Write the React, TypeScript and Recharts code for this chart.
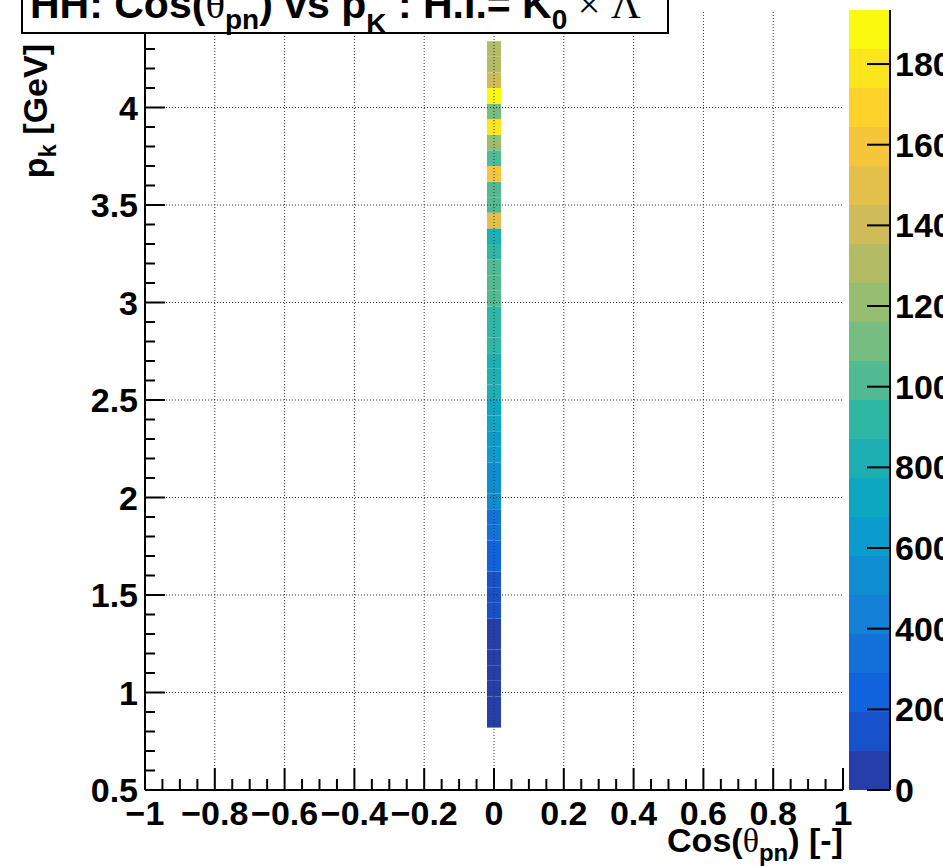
import React from "react";
import { ComposedChart, ReferenceArea, ReferenceLine, Scatter, XAxis, YAxis } from "recharts";

// p_K bins (lower edge, GeV) filled in the Cos(theta_pn) bin around 0
const pkBinLow = [
  0.82, 0.9, 0.98, 1.06, 1.14, 1.22, 1.3, 1.38, 1.46, 1.54, 1.62, 1.7, 1.78, 1.86, 1.94,
  2.02, 2.1, 2.18, 2.26, 2.34, 2.42, 2.5, 2.58, 2.66, 2.74, 2.82, 2.9, 2.98, 3.06, 3.14,
  3.22, 3.3, 3.38, 3.46, 3.54, 3.62, 3.7, 3.78, 3.86, 3.94, 4.02, 4.1, 4.18, 4.26,
];
const pkBinWidth = 0.08;
const cosBin = [-0.02, 0.02];
const counts = [
  30, 45, 55, 60, 70, 80, 90, 120, 150, 180, 220, 260, 330, 370, 500,
  520, 560, 600, 640, 700, 740, 790, 820, 850, 890, 920, 950, 1000, 1010, 1030,
  930, 840, 1500, 1020, 1040, 1600, 1050, 1200, 1790, 1130, 1934, 1400, 1300, 1290,
];

const xTicks = [
  -1, -0.95, -0.9, -0.85, -0.8, -0.75, -0.7, -0.65, -0.6, -0.55, -0.5, -0.45, -0.4, -0.35,
  -0.3, -0.25, -0.2, -0.15, -0.1, -0.05, 0, 0.05, 0.1, 0.15, 0.2, 0.25, 0.3, 0.35, 0.4,
  0.45, 0.5, 0.55, 0.6, 0.65, 0.7, 0.75, 0.8, 0.85, 0.9, 0.95, 1,
];
const xMajor = [-1, -0.8, -0.6, -0.4, -0.2, 0, 0.2, 0.4, 0.6, 0.8, 1];
const xLabels = ["\u22121", "\u22120.8", "\u22120.6", "\u22120.4", "\u22120.2", "0", "0.2", "0.4", "0.6", "0.8", "1"];
const yTicks = [
  0.5, 0.6, 0.7, 0.8, 0.9, 1, 1.1, 1.2, 1.3, 1.4, 1.5, 1.6, 1.7, 1.8, 1.9, 2, 2.1, 2.2,
  2.3, 2.4, 2.5, 2.6, 2.7, 2.8, 2.9, 3, 3.1, 3.2, 3.3, 3.4, 3.5, 3.6, 3.7, 3.8, 3.9, 4,
  4.1, 4.2, 4.3, 4.4, 4.5,
];
const yMajor = [0.5, 1, 1.5, 2, 2.5, 3, 3.5, 4, 4.5];
const yLabels = ["0.5", "1", "1.5", "2", "2.5", "3", "3.5", "4", "4.5"];
const zTicks = [0, 200, 400, 600, 800, 1000, 1200, 1400, 1600, 1800];
const zLabels = ["0", "200", "400", "600", "800", "1000", "1200", "1400", "1600", "1800"];

// kBird palette, 20 contour levels
const zColors = [
  "#263EA9", "#1752CC", "#1063DC", "#1272D9", "#1481D6", "#0E8ED1", "#099CCC", "#0EA7C2",
  "#1EAFB3", "#2EB7A4", "#51BA92", "#75BD80", "#96BE71", "#B3BC65", "#D0BB59", "#E2C049",
  "#F5C63A", "#FDD22B", "#FBE61D", "#F9FA0E",
];

const FONT = "'Liberation Sans', Arial, Helvetica, sans-serif";
const SERIF = "'Liberation Serif', 'DejaVu Serif', serif";
const LABEL_SIZE = 34;
const zMax = Math.max(...counts);
const nLevels = zColors.length;
const levels = zColors.map((_, i) => (zMax * i) / nLevels);

function colorFor(v: number) {
  const i = Math.min(nLevels - 1, Math.floor((v / zMax) * nLevels));
  return zColors[i];
}

const cells = pkBinLow.map((p, i) => ({ x: 0, pk: p + pkBinWidth / 2, count: counts[i] }));

const idx = (list: number[], v: number) => list.findIndex((m) => Math.abs(m - v) < 1e-6);

function BottomTick(props: any) {
  const { x, y, payload } = props;
  const k = idx(xMajor, payload.value);
  return (
    <g>
      <line x1={x} x2={x} y1={y} y2={y - (k >= 0 ? 22 : 11)} stroke="#000" strokeWidth={2} />
      {k >= 0 && (
        <text x={x} y={y + 35} textAnchor="middle" fontFamily={FONT} fontWeight="bold" fontSize={LABEL_SIZE} fill="#000">
          {xLabels[k]}
        </text>
      )}
    </g>
  );
}

function TopTick(props: any) {
  const { x, y, payload } = props;
  const k = idx(xMajor, payload.value);
  return <line x1={x} x2={x} y1={y} y2={y + (k >= 0 ? 22 : 11)} stroke="#000" strokeWidth={2} />;
}

function LeftTick(props: any) {
  const { x, y, payload } = props;
  const k = idx(yMajor, payload.value);
  return (
    <g>
      <line x1={x} x2={x + (k >= 0 ? 20 : 10)} y1={y} y2={y} stroke="#000" strokeWidth={2} />
      {k >= 0 && (
        <text x={x - 7} y={y + 12} textAnchor="end" fontFamily={FONT} fontWeight="bold" fontSize={LABEL_SIZE} fill="#000">
          {yLabels[k]}
        </text>
      )}
    </g>
  );
}

function RightTick(props: any) {
  const { x, y, payload } = props;
  const k = idx(yMajor, payload.value);
  return <line x1={x} x2={x - (k >= 0 ? 20 : 10)} y1={y} y2={y} stroke="#000" strokeWidth={2} />;
}

function ZTick(props: any) {
  const { x, y, payload } = props;
  const k = idx(zTicks, payload.value);
  return (
    <g>
      <line x1={x} x2={x - 23} y1={y} y2={y} stroke="#000" strokeWidth={2} />
      <text x={x + 5} y={y + 12} fontFamily={FONT} fontWeight="bold" fontSize={LABEL_SIZE} fill="#000">
        {zLabels[k]}
      </text>
    </g>
  );
}

const frame = { stroke: "#000", strokeWidth: 2 };
const grid = { stroke: "#333", strokeWidth: 1, strokeDasharray: "1 2" };

export default function App() {
  return (
    <div style={{ position: "absolute", left: 0, top: 0, width: 943, height: 866, overflow: "hidden", background: "#fff" }}>
      <div style={{ position: "absolute", left: 0, top: 0 }}>
        <ComposedChart width={943} height={866} data={cells} margin={{ top: 10, right: 100, bottom: 0, left: 0 }}>
          <XAxis dataKey="x" type="number" domain={[-1, 1]} ticks={xTicks} interval={0} height={76}
            tickSize={0} tickMargin={0} tickLine={false} axisLine={frame} tick={(p: any) => <BottomTick {...p} />} allowDataOverflow />
          <XAxis xAxisId="top" orientation="top" type="number" domain={[-1, 1]} ticks={xTicks} interval={0} height={0}
            tickSize={0} tickMargin={0} tickLine={false} axisLine={frame} tick={(p: any) => <TopTick {...p} />} allowDataOverflow />
          <YAxis dataKey="pk" type="number" domain={[0.5, 4.5]} ticks={yTicks} interval={0} width={145}
            tickSize={0} tickMargin={0} tickLine={false} axisLine={frame} tick={(p: any) => <LeftTick {...p} />} allowDataOverflow />
          <YAxis yAxisId="right" orientation="right" type="number" domain={[0.5, 4.5]} ticks={yTicks} interval={0} width={0}
            tickSize={0} tickMargin={0} tickLine={false} axisLine={frame} tick={(p: any) => <RightTick {...p} />} allowDataOverflow />
          {cells.map((c, i) => (
            <ReferenceArea key={"c" + i} x1={cosBin[0]} x2={cosBin[1]} y1={pkBinLow[i]} y2={pkBinLow[i] + pkBinWidth}
              fill={colorFor(c.count)} fillOpacity={1} stroke="none" />
          ))}
          {xMajor.slice(1, -1).map((v) => (
            <ReferenceLine key={"gx" + v} x={v} {...grid} />
          ))}
          {yMajor.slice(1, -1).map((v) => (
            <ReferenceLine key={"gy" + v} y={v} {...grid} />
          ))}
          <Scatter dataKey="pk" shape={() => <g />} isAnimationActive={false} />
        </ComposedChart>
      </div>
      <div style={{ position: "absolute", left: 0, top: 0 }}>
        <ComposedChart width={943} height={866} data={cells} margin={{ top: 10, right: 0, bottom: 76, left: 849 }}>
          <XAxis dataKey="x" type="number" domain={[-0.5, 0.5]} hide />
          <YAxis orientation="right" type="number" domain={[0, zMax]} ticks={zTicks} interval={0} width={53}
            tickSize={0} tickMargin={0} tickLine={false} axisLine={frame} tick={(p: any) => <ZTick {...p} />} allowDataOverflow />
          {levels.map((lv, i) => (
            <ReferenceArea key={"z" + i} x1={-0.5} x2={0.5} y1={lv} y2={i + 1 < nLevels ? levels[i + 1] : zMax}
              fill={zColors[i]} fillOpacity={1} stroke="none" />
          ))}
          <Scatter dataKey="count" shape={() => <g />} isAnimationActive={false} />
        </ComposedChart>
      </div>
      <svg width={943} height={866} style={{ position: "absolute", left: 0, top: 0, pointerEvents: "none" }}>
        <rect x={22} y={-10} width={646} height={43} fill="#fff" stroke="#000" strokeWidth={2} />
        <text x={30} y={18} fontFamily={FONT} fontWeight="bold" fontSize={41} fill="#000" style={{ whiteSpace: "pre" }}>
          <tspan>HH: Cos(</tspan>
          <tspan fontFamily={SERIF} fontWeight="normal">θ</tspan>
          <tspan dy={11} fontSize={28}>pn</tspan>
          <tspan dy={-11}>) vs p</tspan>
          <tspan dy={15} fontSize={28}>K</tspan>
          <tspan dy={-15}> : H.I.= K</tspan>
          <tspan dy={11} fontSize={28}>0</tspan>
          <tspan dy={-11} fontFamily={SERIF} fontWeight="normal"> × Λ</tspan>
        </text>
        <text transform="translate(47,44) rotate(-90)" textAnchor="end" fontFamily={FONT} fontWeight="bold" fontSize={34} fill="#000" style={{ whiteSpace: "pre" }}>
          <tspan>p</tspan>
          <tspan dy={9} fontSize={24}>k</tspan>
          <tspan dy={-9}> [GeV]</tspan>
        </text>
        <text x={843} y={852} textAnchor="end" fontFamily={FONT} fontWeight="bold" fontSize={34} fill="#000" style={{ whiteSpace: "pre" }}>
          <tspan>Cos(</tspan>
          <tspan fontFamily={SERIF} fontWeight="normal">θ</tspan>
          <tspan dy={9} fontSize={24}>pn</tspan>
          <tspan dy={-9}>) [-]</tspan>
        </text>
      </svg>
    </div>
  );
}
